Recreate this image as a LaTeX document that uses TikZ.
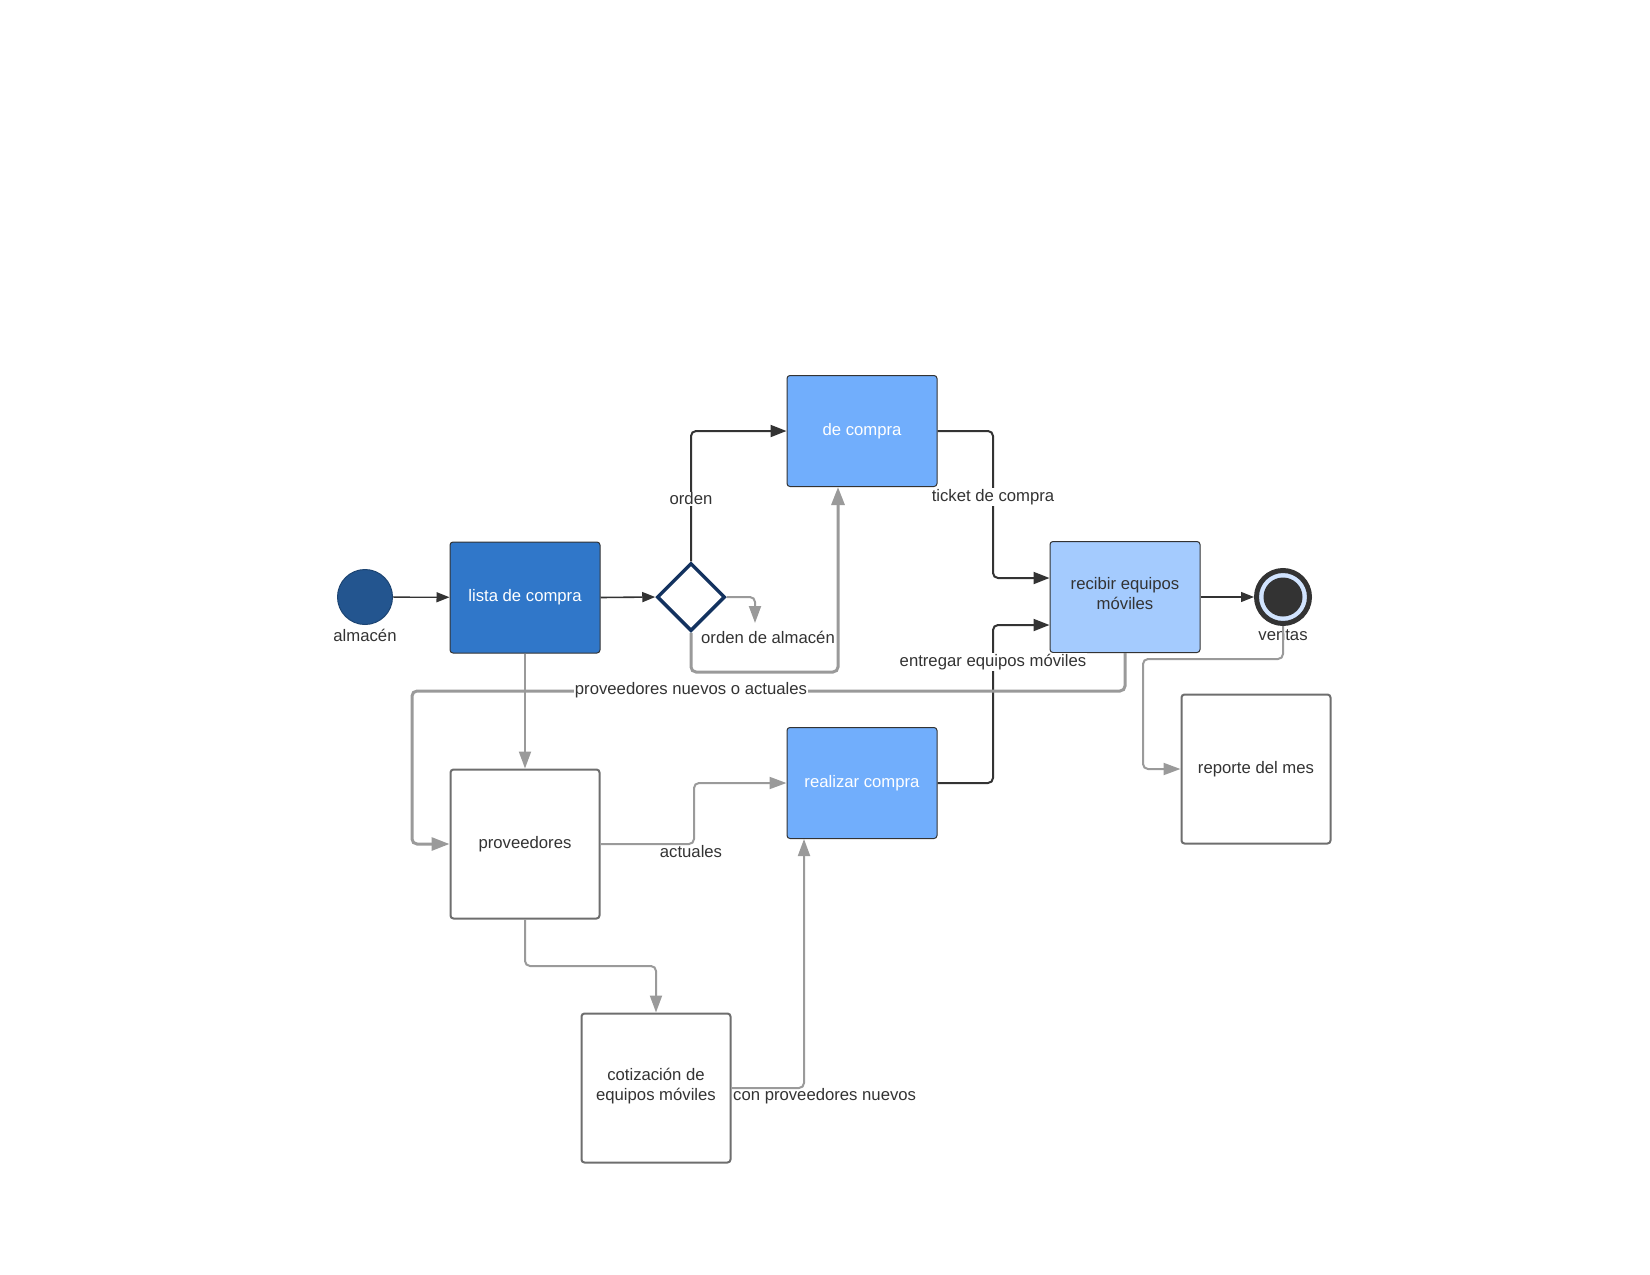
\documentclass[tikz,border=0pt]{standalone}
\usepackage{fontspec}
\setmainfont{Liberation Sans}
\usetikzlibrary{arrows.meta,shapes.geometric}

\definecolor{startblue}{HTML}{23558F}
\definecolor{listablue}{HTML}{3077C9}
\definecolor{midblue}{HTML}{71AEFC}
\definecolor{paleblue}{HTML}{A4CBFE}
\definecolor{navy}{HTML}{13325F}
\definecolor{ringfill}{HTML}{D1E4FF}
\definecolor{darkgrey}{HTML}{333333}
\definecolor{lineg}{HTML}{9A9A9A}
\definecolor{boxg}{HTML}{6E6E6E}

\tikzset{
  txt/.style={font=\fontsize{16.7}{20}\selectfont, text=darkgrey, align=center},
  bluetask/.style={txt, rectangle, rounded corners=3pt, draw=darkgrey, line width=1pt,
    minimum width=150pt, minimum height=111pt, inner sep=0pt},
  whitetask/.style={txt, rectangle, rounded corners=3pt, draw=boxg, line width=2pt,
    fill=white, minimum width=149pt, minimum height=149pt, inner sep=0pt},
  inner/.style={txt, inner sep=0pt},
  lbl/.style={txt, inner sep=1pt},
  lblbg/.style={txt, inner sep=1pt, fill=white},
  blk/.style={draw=darkgrey, line width=2pt, rounded corners=5pt,
    -{Triangle[length=16pt,width=12pt]}},
  blkthin/.style={draw=darkgrey, line width=1.3pt,
    -{Triangle[length=13pt,width=10pt]}},
  gry/.style={draw=lineg, line width=2pt, rounded corners=5pt,
    -{Triangle[length=17pt,width=12pt]}},
  grythick/.style={draw=lineg, line width=3pt, rounded corners=5pt,
    -{Triangle[length=18pt,width=13pt]}},
}

\begin{document}
\begin{tikzpicture}[x=1pt,y=-1pt]
\useasboundingbox (0,0) rectangle (1650,1275);

% events and gateway
\node[circle, fill=startblue, draw=startblue!80!black, line width=1pt,
      minimum size=55pt, inner sep=0pt] (start) at (365,597) {};
\node[lbl] (startlbl) at (365,635) {almacén};

\node[diamond, aspect=1, draw=navy, line width=3.5pt, fill=white,
      minimum width=68pt, minimum height=68pt, inner sep=0pt] (gw) at (691,597) {};

\node[circle, draw=darkgrey, line width=5pt, fill=ringfill,
      minimum size=53pt, inner sep=0pt] (fin) at (1283,597) {};
\node[circle, fill=darkgrey, minimum size=39pt, inner sep=0pt] (fincore) at (1283,597) {};
\node[lbl] (finlbl) at (1283,635) {ventas};

% tasks
\node[bluetask, fill=listablue, text=white] (lista) at (525,597.5) {lista de compra};
\node[bluetask, fill=midblue, text=white] (decompra) at (862,431) {de compra};
\node[bluetask, fill=paleblue,
      label={[inner, yshift=3pt]center:recibir equipos\\móviles}] (recibir) at (1125,597) {};
\node[bluetask, fill=midblue, text=white] (realizar) at (862,783) {realizar compra};
\node[whitetask] (prov) at (525,844) {proveedores};
\node[whitetask,
      label={[inner, yshift=2pt]center:cotización de\\equipos móviles}] (cotiz) at (656,1088) {};
\node[whitetask] (reporte) at (1256,769) {reporte del mes};

% bend points
\coordinate (almend) at (755,623);
\coordinate (loopc) at (838,672);
\coordinate (t1) at (993,578);
\coordinate (t2) at (993,625);
\coordinate (p1) at (412,691);
\coordinate (a1) at (694,783);
\coordinate (b1) at (656,966);
\coordinate (c2) at (804,1088);
\coordinate (r1) at (1143,659);

% connectors
\draw[blkthin] (start) -- (lista);
\draw[blkthin, line width=1.6pt] (lista.east) -- (gw.west);
\draw[blk] (gw.north) |- (decompra.west);
\draw[gry] (gw.east) -| (almend);
\draw[grythick] (gw.south) |- (loopc) -- (decompra.south -| loopc);
\draw[blk] (decompra.east) -| (t1) -- (recibir.west |- t1);
\draw[blk] (realizar.east) -| (t2) -- (recibir.west |- t2);
\draw[blkthin] (recibir.east) -- (fin.west);
\draw[grythick] (recibir.south) |- (p1) |- (prov.west);
\draw[gry] (lista.south) -- (prov.north);
\draw[gry] (prov.east) -| (a1) -- (realizar.west);
\draw[gry] (prov.south) |- (b1) -- (cotiz.north);
\draw[gry] (cotiz.east) -- (c2) -- (realizar.south -| c2);
\draw[gry] (fin.south) |- (r1) |- (reporte.west);

% connector labels
\node[lblbg] (lorden) at (691,499) {orden};
\node[lbl] (lalm) at (768,637) {orden de almacén};
\node[lblbg] (lticket) at (993,497) {ticket de compra};
\node[lblbg] (lentregar) at (993,662) {entregar equipos móviles};
\node[lblbg] (lprov) at (691,690) {proveedores nuevos o actuales};
\node[lbl] (lact) at (691,852) {actuales};
\node[lbl, anchor=west] (lnuevos) at (732,1096) {con proveedores nuevos};
\end{tikzpicture}
\end{document}
